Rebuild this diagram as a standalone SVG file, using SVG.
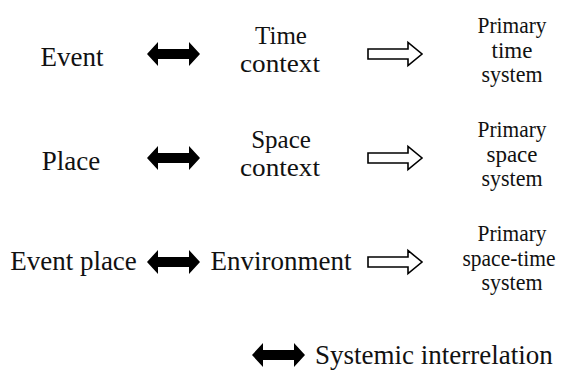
<svg xmlns="http://www.w3.org/2000/svg" width="562" height="372" viewBox="0 0 562 372">
<style>
text{font-family:"Liberation Serif","Times New Roman",serif;font-size:27px;fill:#111;text-anchor:middle}
text.m{font-size:25px}
text.r{font-size:23px}
.dbl{fill:#000}
.out{fill:#fff;stroke:#000;stroke-width:1.6;stroke-linejoin:miter}
</style>
<defs>
<path id="dbl" class="dbl" d="M0,0 L11,-12 L11,-5 L42,-5 L42,-12 L53,0 L42,12 L42,5 L11,5 L11,12 Z"/>
<path id="out" class="out" d="M0,-5 L40,-5 L40,-11.5 L54,0 L40,11.5 L40,5 L0,5 Z"/>
</defs>
<rect width="562" height="372" fill="#fff"/>
<g id="event"><text x="72" y="66">Event</text></g>
<g id="time-context"><text class="m" x="281" y="44">Time</text><text class="m" x="280" y="72" textLength="80" lengthAdjust="spacingAndGlyphs">context</text></g>
<g id="primary-time"><text class="r" x="512" y="33" textLength="69" lengthAdjust="spacingAndGlyphs">Primary</text><text class="r" x="512" y="57.5">time</text><text class="r" x="512" y="82" textLength="61" lengthAdjust="spacingAndGlyphs">system</text></g>
<g id="place"><text x="71" y="170">Place</text></g>
<g id="space-context"><text class="m" x="281" y="148">Space</text><text class="m" x="280" y="176" textLength="80" lengthAdjust="spacingAndGlyphs">context</text></g>
<g id="primary-space"><text class="r" x="512" y="137" textLength="69" lengthAdjust="spacingAndGlyphs">Primary</text><text class="r" x="512" y="161.5">space</text><text class="r" x="512" y="186" textLength="61" lengthAdjust="spacingAndGlyphs">system</text></g>
<g id="event-place"><text x="73.5" y="270">Event place</text></g>
<g id="environment"><text x="281" y="270">Environment</text></g>
<g id="primary-spacetime"><text class="r" x="512" y="241" textLength="69" lengthAdjust="spacingAndGlyphs">Primary</text><text class="r" x="509" y="265.5" textLength="93" lengthAdjust="spacingAndGlyphs">space-time</text><text class="r" x="512" y="290" textLength="61" lengthAdjust="spacingAndGlyphs">system</text></g>
<g id="legend"><text x="315" y="364" style="text-anchor:start">Systemic interrelation</text></g>
<g id="connectors">
<use href="#dbl" x="147" y="54"/>
<use href="#out" x="368" y="54"/>
<use href="#dbl" x="147" y="158"/>
<use href="#out" x="368" y="158"/>
<use href="#dbl" x="147" y="262"/>
<use href="#out" x="368" y="262"/>
<use href="#dbl" x="252" y="355"/>
</g>
</svg>
